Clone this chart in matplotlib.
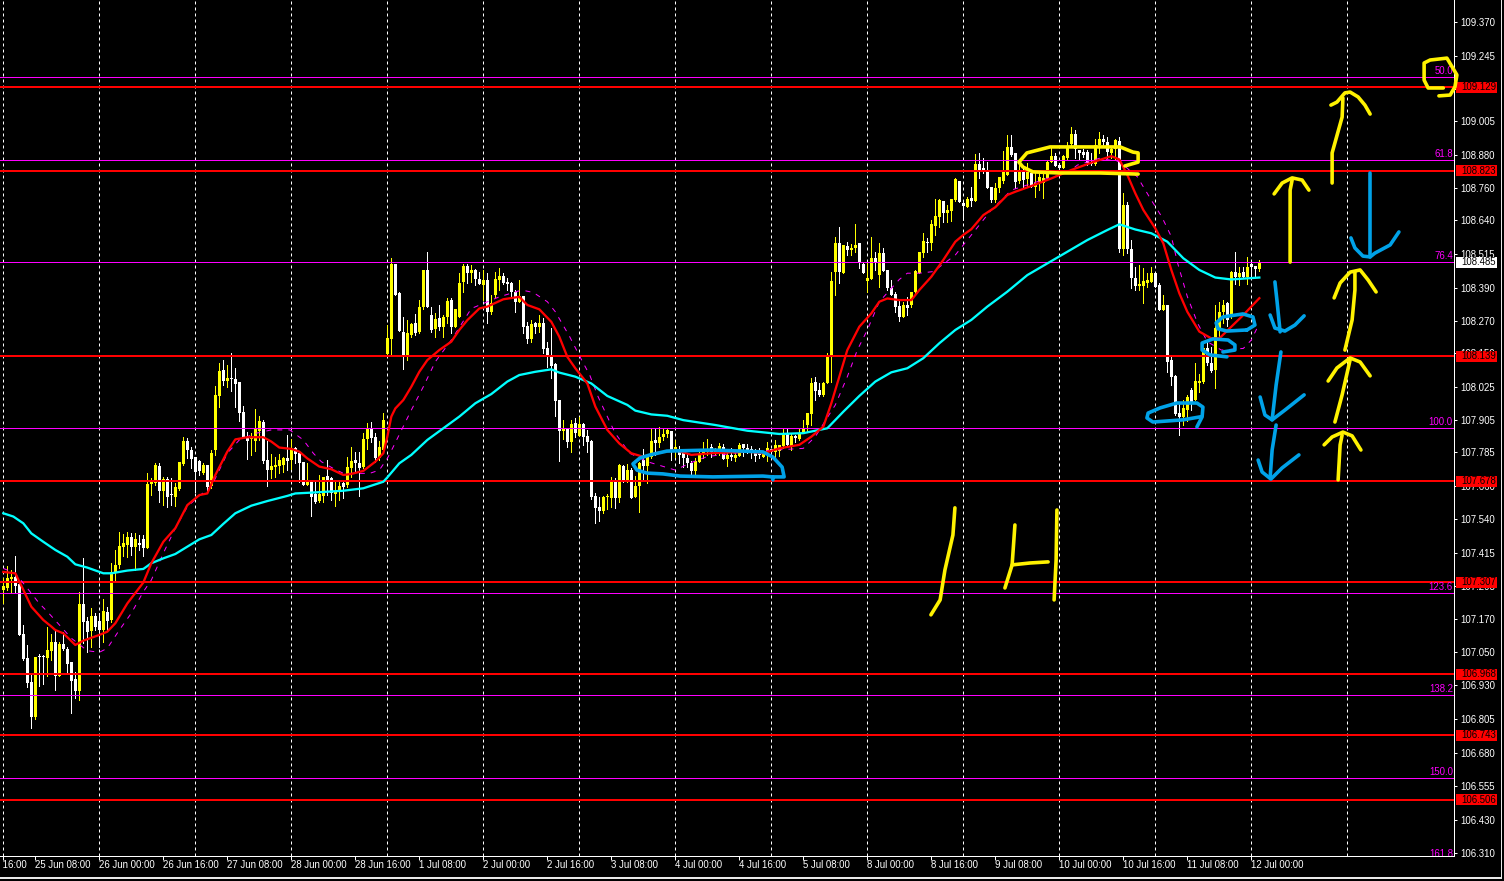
import numpy as np
import matplotlib
matplotlib.use("Agg")
import matplotlib.pyplot as plt
from matplotlib.lines import Line2D
from matplotlib.patches import Rectangle
from matplotlib.transforms import blended_transform_factory

plt.rcParams['font.family'] = ['Liberation Sans', 'DejaVu Sans']

# H1 candles
opens = [
    107.279, 107.285, 107.318, 107.328, 107.301, 107.115, 107.029, 106.940, 106.812, 107.033,
    107.033, 107.029, 107.055, 107.087, 106.963, 107.080, 107.061, 107.015, 106.951, 106.908,
    107.227, 107.166, 107.128, 107.183, 107.166, 107.131, 107.199, 107.168, 107.340, 107.371,
    107.438, 107.444, 107.472, 107.438, 107.450, 107.466, 107.432, 107.669, 107.671, 107.735,
    107.644, 107.687, 107.629, 107.622, 107.649, 107.742, 107.827, 107.794, 107.769, 107.753,
    107.711, 107.739, 107.661, 107.794, 107.993, 108.089, 108.049, 108.058, 108.054, 108.044,
    107.934, 107.842, 107.835, 107.827, 107.864, 107.897, 107.757, 107.720, 107.733, 107.736,
    107.739, 107.763, 107.757, 107.800, 107.784, 107.751, 107.665, 107.680, 107.631, 107.606,
    107.625, 107.698, 107.690, 107.632, 107.641, 107.671, 107.665, 107.726, 107.757, 107.747,
    107.733, 107.834, 107.874, 107.843, 107.763, 107.794, 108.147, 108.203, 108.479, 108.371,
    108.230, 108.138, 108.217, 108.263, 108.230, 108.322, 108.457, 108.291, 108.238, 108.279,
    108.246, 108.282, 108.346, 108.248, 108.285, 108.413, 108.471, 108.447, 108.456, 108.422,
    108.401, 108.420, 108.303, 108.365, 108.420, 108.434, 108.414, 108.410, 108.377, 108.340,
    108.361, 108.250, 108.203, 108.260, 108.246, 108.263, 108.168, 108.138, 108.110, 107.978,
    107.865, 107.874, 107.825, 107.893, 107.846, 107.890, 107.846, 107.828, 107.625, 107.585,
    107.569, 107.622, 107.616, 107.683, 107.616, 107.735, 107.677, 107.720, 107.620, 107.661,
    107.757, 107.735, 107.767, 107.831, 107.818, 107.843, 107.853, 107.865, 107.794, 107.794,
    107.782, 107.764, 107.745, 107.718, 107.748, 107.780, 107.786, 107.804, 107.782, 107.785,
    107.804, 107.760, 107.776, 107.764, 107.772, 107.817, 107.801, 107.797, 107.785, 107.782,
    107.768, 107.785, 107.797, 107.788, 107.792, 107.809, 107.853, 107.809, 107.844, 107.834,
    107.858, 107.886, 107.926, 108.043, 108.015, 107.997, 108.040, 108.138, 108.448, 108.555,
    108.447, 108.545, 108.530, 108.537, 108.557, 108.479, 108.416, 108.422, 108.500, 108.438,
    108.518, 108.457, 108.389, 108.368, 108.324, 108.285, 108.328, 108.328, 108.377, 108.447,
    108.518, 108.561, 108.557, 108.619, 108.653, 108.711, 108.665, 108.675, 108.715, 108.786,
    108.705, 108.690, 108.723, 108.712, 108.847, 108.831, 108.825, 108.764, 108.714, 108.757,
    108.785, 108.807, 108.908, 108.886, 108.785, 108.825, 108.791, 108.813, 108.764, 108.776,
    108.776, 108.794, 108.856, 108.876, 108.843, 108.831, 108.870, 108.921, 108.957, 108.899,
    108.890, 108.892, 108.856, 108.847, 108.917, 108.941, 108.929, 108.889, 108.901, 108.933,
    108.533, 108.696, 108.533, 108.426, 108.398, 108.399, 108.410, 108.414, 108.447, 108.402,
    108.310, 108.328, 108.125, 108.067, 107.932, 107.915, 107.941, 108.015, 107.978, 108.039,
    108.046, 108.168, 108.113, 108.088, 108.242, 108.303, 108.334, 108.291, 108.450, 108.430,
    108.450, 108.432, 108.479, 108.471, 108.459,
]
highs = [
    107.322, 107.367, 107.352, 107.404, 107.309, 107.150, 107.076, 106.972, 107.033, 107.043,
    107.039, 107.141, 107.117, 107.131, 107.088, 107.123, 107.070, 107.015, 106.978, 107.272,
    107.395, 107.180, 107.211, 107.193, 107.193, 107.244, 107.217, 107.377, 107.426, 107.493,
    107.485, 107.493, 107.487, 107.487, 107.481, 107.481, 107.708, 107.690, 107.745, 107.745,
    107.693, 107.693, 107.690, 107.674, 107.751, 107.841, 107.837, 107.806, 107.769, 107.757,
    107.745, 107.739, 107.794, 108.030, 108.116, 108.125, 108.107, 108.150, 108.095, 108.046,
    107.956, 107.862, 107.855, 107.944, 107.919, 107.904, 107.827, 107.778, 107.769, 107.778,
    107.769, 107.849, 107.833, 107.806, 107.788, 107.751, 107.745, 107.684, 107.677, 107.702,
    107.696, 107.757, 107.696, 107.680, 107.680, 107.677, 107.769, 107.804, 107.788, 107.788,
    107.855, 107.892, 107.898, 107.855, 107.828, 107.929, 108.254, 108.500, 108.479, 108.375,
    108.285, 108.272, 108.260, 108.295, 108.346, 108.457, 108.523, 108.322, 108.297, 108.328,
    108.291, 108.352, 108.352, 108.315, 108.444, 108.479, 108.479, 108.475, 108.459, 108.450,
    108.456, 108.444, 108.365, 108.450, 108.463, 108.444, 108.426, 108.414, 108.383, 108.420,
    108.361, 108.266, 108.272, 108.266, 108.291, 108.279, 108.193, 108.242, 108.113, 107.978,
    107.904, 107.874, 107.904, 107.910, 107.917, 107.895, 107.868, 107.831, 107.637, 107.622,
    107.625, 107.632, 107.693, 107.690, 107.742, 107.739, 107.742, 107.726, 107.700, 107.751,
    107.796, 107.769, 107.870, 107.870, 107.880, 107.874, 107.874, 107.865, 107.831, 107.809,
    107.782, 107.782, 107.752, 107.764, 107.795, 107.825, 107.834, 107.817, 107.801, 107.819,
    107.817, 107.782, 107.801, 107.795, 107.819, 107.817, 107.817, 107.807, 107.797, 107.801,
    107.788, 107.822, 107.797, 107.831, 107.813, 107.874, 107.874, 107.856, 107.850, 107.874,
    107.905, 107.929, 108.058, 108.064, 108.040, 108.046, 108.150, 108.451, 108.579, 108.614,
    108.549, 108.561, 108.552, 108.626, 108.557, 108.488, 108.481, 108.577, 108.524, 108.555,
    108.537, 108.457, 108.420, 108.377, 108.346, 108.340, 108.358, 108.377, 108.457, 108.524,
    108.592, 108.573, 108.642, 108.717, 108.717, 108.711, 108.696, 108.717, 108.794, 108.786,
    108.714, 108.727, 108.764, 108.884, 108.886, 108.868, 108.856, 108.764, 108.776, 108.800,
    108.896, 108.954, 108.954, 108.886, 108.843, 108.837, 108.849, 108.825, 108.813, 108.813,
    108.813, 108.862, 108.911, 108.886, 108.849, 108.880, 108.929, 108.982, 108.972, 108.899,
    108.904, 108.899, 108.886, 108.941, 108.966, 108.954, 108.948, 108.905, 108.941, 108.948,
    108.739, 108.708, 108.567, 108.469, 108.475, 108.463, 108.445, 108.469, 108.451, 108.408,
    108.365, 108.328, 108.144, 108.069, 107.966, 107.978, 107.997, 108.021, 108.113, 108.074,
    108.168, 108.193, 108.174, 108.328, 108.340, 108.346, 108.340, 108.454, 108.524, 108.466,
    108.469, 108.503, 108.493, 108.471, 108.493,
]
lows = [
    107.230, 107.279, 107.272, 107.266, 107.113, 107.021, 106.920, 106.769, 106.803, 106.926,
    106.931, 106.960, 107.021, 106.910, 106.963, 107.058, 106.972, 106.825, 106.880, 106.874,
    107.082, 107.049, 107.070, 107.131, 107.070, 107.088, 107.131, 107.162, 107.309, 107.358,
    107.405, 107.401, 107.407, 107.352, 107.426, 107.404, 107.432, 107.628, 107.665, 107.604,
    107.591, 107.585, 107.591, 107.588, 107.647, 107.739, 107.763, 107.726, 107.641, 107.702,
    107.706, 107.634, 107.653, 107.776, 107.954, 108.033, 108.027, 108.012, 107.954, 107.901,
    107.837, 107.761, 107.776, 107.792, 107.831, 107.745, 107.663, 107.690, 107.696, 107.708,
    107.714, 107.720, 107.723, 107.745, 107.677, 107.665, 107.665, 107.552, 107.597, 107.604,
    107.604, 107.628, 107.610, 107.588, 107.610, 107.616, 107.657, 107.696, 107.714, 107.625,
    107.726, 107.798, 107.825, 107.751, 107.757, 107.794, 108.147, 108.147, 108.365, 108.233,
    108.091, 108.125, 108.211, 108.217, 108.226, 108.315, 108.322, 108.230, 108.209, 108.236,
    108.211, 108.260, 108.226, 108.246, 108.285, 108.377, 108.410, 108.414, 108.401, 108.407,
    108.346, 108.263, 108.295, 108.358, 108.383, 108.407, 108.383, 108.352, 108.303, 108.340,
    108.223, 108.187, 108.193, 108.223, 108.230, 108.150, 108.098, 108.058, 107.919, 107.755,
    107.833, 107.804, 107.788, 107.843, 107.846, 107.812, 107.788, 107.612, 107.524, 107.534,
    107.563, 107.576, 107.585, 107.579, 107.604, 107.677, 107.677, 107.616, 107.620, 107.567,
    107.684, 107.671, 107.763, 107.776, 107.806, 107.831, 107.843, 107.757, 107.769, 107.745,
    107.733, 107.733, 107.703, 107.703, 107.748, 107.764, 107.776, 107.770, 107.776, 107.776,
    107.760, 107.736, 107.758, 107.752, 107.772, 107.772, 107.782, 107.764, 107.752, 107.764,
    107.768, 107.752, 107.770, 107.764, 107.772, 107.801, 107.813, 107.795, 107.825, 107.831,
    107.858, 107.862, 107.886, 107.978, 107.991, 107.993, 108.040, 108.046, 108.365, 108.408,
    108.445, 108.512, 108.512, 108.524, 108.463, 108.445, 108.377, 108.422, 108.457, 108.395,
    108.454, 108.383, 108.365, 108.303, 108.270, 108.285, 108.291, 108.322, 108.365, 108.445,
    108.506, 108.524, 108.530, 108.585, 108.614, 108.635, 108.635, 108.638, 108.712, 108.708,
    108.641, 108.688, 108.692, 108.712, 108.794, 108.813, 108.757, 108.708, 108.708, 108.745,
    108.776, 108.807, 108.876, 108.757, 108.776, 108.757, 108.764, 108.764, 108.724, 108.751,
    108.721, 108.794, 108.856, 108.840, 108.800, 108.831, 108.862, 108.917, 108.868, 108.862,
    108.874, 108.843, 108.843, 108.843, 108.886, 108.911, 108.868, 108.868, 108.862, 108.524,
    108.512, 108.518, 108.389, 108.383, 108.383, 108.336, 108.395, 108.414, 108.395, 108.310,
    108.310, 108.083, 108.033, 107.923, 107.850, 107.886, 107.899, 107.941, 107.978, 108.009,
    108.040, 108.107, 108.082, 108.023, 108.199, 108.260, 108.250, 108.279, 108.407, 108.401,
    108.426, 108.407, 108.432, 108.430, 108.454,
]
closes = [
    107.295, 107.324, 107.328, 107.293, 107.113, 107.023, 106.937, 106.812, 107.033, 107.032,
    107.032, 107.058, 107.087, 106.963, 107.080, 107.060, 107.006, 106.945, 106.908, 107.227,
    107.162, 107.125, 107.183, 107.144, 107.131, 107.201, 107.166, 107.344, 107.371, 107.442,
    107.450, 107.472, 107.438, 107.465, 107.444, 107.432, 107.669, 107.680, 107.739, 107.644,
    107.686, 107.620, 107.627, 107.656, 107.749, 107.827, 107.794, 107.760, 107.714, 107.717,
    107.739, 107.659, 107.782, 107.997, 108.085, 108.049, 108.060, 108.056, 108.037, 107.931,
    107.839, 107.827, 107.837, 107.874, 107.901, 107.755, 107.720, 107.735, 107.736, 107.757,
    107.766, 107.753, 107.800, 107.779, 107.745, 107.665, 107.677, 107.622, 107.604, 107.632,
    107.696, 107.683, 107.637, 107.643, 107.661, 107.659, 107.733, 107.753, 107.745, 107.726,
    107.833, 107.876, 107.837, 107.763, 107.804, 107.904, 108.205, 108.479, 108.365, 108.233,
    108.138, 108.224, 108.258, 108.226, 108.322, 108.457, 108.322, 108.236, 108.276, 108.246,
    108.285, 108.342, 108.246, 108.312, 108.410, 108.471, 108.447, 108.456, 108.422, 108.405,
    108.420, 108.303, 108.334, 108.422, 108.436, 108.410, 108.405, 108.377, 108.340, 108.361,
    108.248, 108.203, 108.257, 108.246, 108.260, 108.166, 108.135, 108.103, 107.976, 107.865,
    107.874, 107.825, 107.890, 107.855, 107.890, 107.843, 107.825, 107.620, 107.582, 107.569,
    107.622, 107.623, 107.681, 107.616, 107.739, 107.677, 107.720, 107.616, 107.661, 107.745,
    107.735, 107.767, 107.828, 107.821, 107.843, 107.853, 107.868, 107.794, 107.806, 107.776,
    107.764, 107.745, 107.718, 107.752, 107.780, 107.786, 107.797, 107.788, 107.797, 107.809,
    107.760, 107.776, 107.770, 107.776, 107.813, 107.801, 107.788, 107.785, 107.772, 107.776,
    107.782, 107.801, 107.788, 107.813, 107.813, 107.853, 107.813, 107.844, 107.838, 107.858,
    107.871, 107.929, 108.040, 108.013, 107.997, 108.040, 108.144, 108.416, 108.555, 108.451,
    108.549, 108.530, 108.539, 108.549, 108.481, 108.447, 108.426, 108.500, 108.481, 108.518,
    108.454, 108.389, 108.365, 108.322, 108.283, 108.328, 108.316, 108.377, 108.454, 108.524,
    108.564, 108.555, 108.626, 108.656, 108.714, 108.665, 108.676, 108.717, 108.791, 108.708,
    108.693, 108.717, 108.712, 108.847, 108.822, 108.819, 108.757, 108.714, 108.757, 108.798,
    108.825, 108.908, 108.880, 108.782, 108.825, 108.788, 108.819, 108.764, 108.776, 108.800,
    108.794, 108.856, 108.876, 108.840, 108.831, 108.876, 108.913, 108.957, 108.901, 108.886,
    108.880, 108.849, 108.847, 108.917, 108.941, 108.929, 108.892, 108.901, 108.935, 108.533,
    108.696, 108.533, 108.426, 108.398, 108.407, 108.416, 108.420, 108.445, 108.395, 108.310,
    108.328, 108.119, 108.064, 107.927, 107.915, 107.948, 107.990, 107.966, 108.049, 108.049,
    108.168, 108.113, 108.086, 108.242, 108.303, 108.328, 108.272, 108.450, 108.430, 108.447,
    108.432, 108.466, 108.469, 108.459, 108.485,
]

# moving averages, read every few bars
red_bars = [0, 3, 5, 7, 10, 12, 13, 15, 18, 20, 24, 26, 28, 31, 35, 37, 40, 43, 46, 49, 51, 53,
            56, 58, 61, 65, 67, 69, 72, 74, 76, 79, 82, 85, 87, 90, 93, 95, 96, 97, 98, 100, 102,
            104, 106, 109, 112, 114, 116, 119, 121, 125, 129, 131, 134, 137, 139, 141, 143, 146,
            148, 151, 154, 157, 160, 163, 168, 172, 177, 186, 190, 194, 199, 202, 205, 207, 209,
            211, 214, 217, 219, 221, 224, 227, 229, 232, 235, 238, 240, 242, 245, 248, 251, 253,
            257, 262, 267, 272, 277, 279, 281, 283, 285, 288, 290, 292, 294, 296, 299, 302, 304,
            307, 310, 314]
red_vals = [107.345, 107.340, 107.279, 107.217, 107.168, 107.144, 107.131, 107.119, 107.076,
            107.092, 107.113, 107.125, 107.156, 107.229, 107.306, 107.377, 107.456, 107.506,
            107.591, 107.628, 107.634, 107.702, 107.788, 107.833, 107.841, 107.841, 107.825,
            107.803, 107.798, 107.788, 107.763, 107.733, 107.723, 107.702, 107.706, 107.717,
            107.751, 107.782, 107.843, 107.917, 107.947, 107.978, 108.027, 108.082, 108.125,
            108.162, 108.193, 108.236, 108.272, 108.315, 108.322, 108.349, 108.358, 108.328,
            108.312, 108.266, 108.211, 108.137, 108.095, 108.039, 107.954, 107.868, 107.818,
            107.782, 107.769, 107.782, 107.794, 107.776, 107.782, 107.788, 107.782, 107.800,
            107.813, 107.843, 107.880, 107.966, 108.064, 108.162, 108.248, 108.297, 108.340,
            108.352, 108.346, 108.346, 108.383, 108.432, 108.494, 108.561, 108.586, 108.607,
            108.659, 108.688, 108.733, 108.745, 108.766, 108.794, 108.825, 108.852, 108.876,
            108.864, 108.807, 108.739, 108.678, 108.610, 108.555, 108.457, 108.371, 108.303,
            108.230, 108.205, 108.205, 108.248, 108.291, 108.353]

cyan_bars = [0, 2.5, 5, 7, 10, 13, 16, 18, 21, 25, 27, 31, 35, 37, 40, 43, 46, 49, 52, 55, 58, 62,
             66, 71, 73, 77, 85, 90, 95, 96, 99, 102, 106, 110, 114, 118, 122, 126, 129, 133, 137,
             139, 143, 147, 151, 156, 158, 162, 166, 170, 178, 186, 194, 200, 206, 210, 214, 218,
             222, 226, 230, 234, 238, 242, 246, 251, 256, 261, 266, 271, 276, 279, 283, 287, 291,
             295, 299, 303, 307, 314]
cyan_vals = [107.561, 107.549, 107.524, 107.487, 107.456, 107.426, 107.401, 107.373, 107.361,
             107.340, 107.340, 107.350, 107.356, 107.377, 107.395, 107.411, 107.438, 107.465,
             107.481, 107.522, 107.561, 107.589, 107.606, 107.625, 107.634, 107.637, 107.644,
             107.653, 107.677, 107.693, 107.745, 107.776, 107.831, 107.874, 107.917, 107.966,
             108.000, 108.046, 108.070, 108.082, 108.091, 108.079, 108.064, 108.039, 107.993,
             107.960, 107.939, 107.925, 107.920, 107.904, 107.886, 107.865, 107.853, 107.856,
             107.874, 107.935, 107.993, 108.046, 108.080, 108.095, 108.132, 108.187, 108.236,
             108.273, 108.322, 108.377, 108.438, 108.481, 108.524, 108.567, 108.604, 108.625,
             108.606, 108.592, 108.561, 108.500, 108.457, 108.429, 108.422, 108.429]

dash_bars = [0, 3, 6, 9, 11, 14, 17, 21, 24, 26, 29, 32, 35, 37, 40, 43, 46, 49, 52, 54, 56, 59,
             63, 67, 71.6, 75, 77.5, 79.5, 82.5, 85, 91.6, 94, 96, 97.5, 102, 105, 108, 112, 117,
             124, 129.6, 132.5, 136, 138, 141.6, 144.6, 146.6, 148.7, 151.6, 153, 156.6, 161, 168,
             171.5, 176, 186, 200, 203, 208, 211, 213.5, 216, 219, 224, 226, 229, 232.5, 238, 240,
             243, 247, 252, 256, 261, 266, 268.5, 274, 279, 283.5, 287, 289.6, 292, 293.6, 296,
             298.6, 301, 304.5, 310, 312, 313.6]
dash_vals = [107.358, 107.340, 107.285, 107.229, 107.199, 107.150, 107.101, 107.055, 107.049,
             107.064, 107.131, 107.193, 107.272, 107.315, 107.414, 107.506, 107.585, 107.625,
             107.659, 107.720, 107.782, 107.831, 107.855, 107.868, 107.868, 107.831, 107.782,
             107.751, 107.726, 107.708, 107.708, 107.720, 107.763, 107.806, 107.941, 108.027,
             108.119, 108.199, 108.315, 108.358, 108.383, 108.374, 108.340, 108.303, 108.211,
             108.125, 108.070, 107.990, 107.898, 107.855, 107.782, 107.751, 107.720, 107.745,
             107.770, 107.788, 107.800, 107.843, 107.960, 108.064, 108.162, 108.236, 108.340,
             108.422, 108.445, 108.445, 108.451, 108.512, 108.549, 108.604, 108.678, 108.751,
             108.770, 108.794, 108.813, 108.843, 108.868, 108.856, 108.800, 108.714, 108.653,
             108.580, 108.481, 108.359, 108.260, 108.193, 108.162, 108.168, 108.199, 108.248]

# horizontal levels
support_levels = [109.129, 108.823, 108.139, 107.678, 107.307, 106.968, 106.743, 106.506]
fib_levels = [109.167, 108.862, 108.485, 107.875, 107.268, 106.892, 106.586, 106.285]
fib_names = ['50.0', '61.8', '76.4', '100.0', '123.6', '138.2', '150.0', '161.8']
last_price = 108.485

price_ticks = [109.370, 109.245, 109.125, 109.005, 108.880, 108.760, 108.640, 108.515, 108.390,
               108.270, 108.150, 108.025, 107.905, 107.785, 107.660, 107.540, 107.415, 107.295,
               107.170, 107.050, 106.930, 106.805, 106.680, 106.555, 106.430, 106.310]

time_labels = ['24 Jun 16:00', '25 Jun 08:00', '26 Jun 00:00', '26 Jun 16:00', '27 Jun 08:00',
               '28 Jun 00:00', '28 Jun 16:00', '1 Jul 08:00', '2 Jul 00:00', '2 Jul 16:00',
               '3 Jul 08:00', '4 Jul 00:00', '4 Jul 16:00', '5 Jul 08:00', '8 Jul 00:00',
               '8 Jul 16:00', '9 Jul 08:00', '10 Jul 00:00', '10 Jul 16:00', '11 Jul 08:00',
               '12 Jul 00:00']

# hand drawn marks on the screenshot, (bar, price)
yellow_strokes = [
    [(360, 109.127), (356.2, 109.127), (355.2, 109.156), (355.2, 109.219), (356.7, 109.230),
     (360.9, 109.237), (363.4, 109.175), (362.9, 109.131), (361.7, 109.101), (358.9, 109.098)],
    [(332.2, 108.777), (332.2, 108.888), (334.7, 109.020), (334.9, 109.090)],
    [(331.9, 109.064), (333.4, 109.075), (335.4, 109.109), (336.7, 109.112), (338.7, 109.094),
     (340.4, 109.064), (341.7, 109.031)],
    [(321.7, 108.486), (321.7, 108.751), (322.2, 108.788)],
    [(317.7, 108.737), (319.7, 108.777), (322.2, 108.796), (324.7, 108.788), (326.4, 108.751)],
    [(335.4, 108.162), (337.2, 108.273), (337.9, 108.383), (337.9, 108.449)],
    [(332.7, 108.354), (334.2, 108.409), (336.7, 108.449), (339.2, 108.457), (341.2, 108.420),
     (343.2, 108.376)],
    [(332.9, 107.897), (334.7, 107.997), (336.7, 108.126)],
    [(331.2, 108.048), (333.4, 108.096), (336.7, 108.133), (339.2, 108.118), (341.7, 108.067)],
    [(333.7, 107.684), (334.2, 107.813), (334.7, 107.849)],
    [(330.2, 107.813), (332.2, 107.842), (334.9, 107.860), (337.2, 107.846), (339.4, 107.794)],
    [(231.9, 107.187), (234.2, 107.242), (235.4, 107.352), (237.4, 107.481), (237.9, 107.581)],
    [(250.4, 107.286), (252.2, 107.371), (252.9, 107.518)],
    [(252.2, 107.371), (256.7, 107.378), (261.2, 107.382)],
    [(262.7, 107.242), (263.2, 107.389), (263.4, 107.573)],
    [(283.7, 108.810), (274.2, 108.814), (264.2, 108.814), (257.4, 108.818), (254.9, 108.836),
     (253.9, 108.854), (255.9, 108.888), (261.7, 108.910), (272.4, 108.910), (279.2, 108.910),
     (282.4, 108.891), (283.7, 108.888), (283.7, 108.854), (280.4, 108.840)],
]
blue_strokes = [
    [(192.4, 107.684), (192.2, 107.695), (189.9, 107.698), (177.4, 107.695), (169.2, 107.698),
     (164.9, 107.706), (160.9, 107.709), (158.4, 107.720), (157.4, 107.743), (159.2, 107.765),
     (161.7, 107.776), (165.9, 107.790), (177.4, 107.794), (189.9, 107.787), (192.4, 107.768),
     (194.7, 107.731), (195.2, 107.695), (192.4, 107.695)],
    [(298.4, 107.879), (299.7, 107.916), (299.9, 107.952), (298.4, 107.967), (293.4, 107.967),
     (289.2, 107.949), (286.2, 107.930), (285.9, 107.912), (287.4, 107.897), (294.9, 107.905),
     (299.2, 107.916)],
    [(305.9, 108.137), (301.7, 108.144), (299.7, 108.162), (299.7, 108.188), (302.4, 108.203),
     (306.2, 108.199), (307.9, 108.181), (307.9, 108.162), (304.9, 108.155)],
    [(310.9, 108.236), (305.9, 108.232), (303.7, 108.240), (303.2, 108.262), (304.9, 108.284),
     (309.9, 108.295), (312.4, 108.284), (312.9, 108.254), (310.9, 108.236)],
    [(341.7, 108.814), (341.7, 108.505)],
    [(336.9, 108.575), (337.9, 108.538), (339.9, 108.508), (341.7, 108.505), (342.9, 108.519),
     (346.7, 108.549), (348.9, 108.597)],
    [(317.9, 108.413), (318.4, 108.346), (319.2, 108.229)],
    [(316.7, 108.291), (317.9, 108.243), (320.4, 108.232), (322.9, 108.254), (325.2, 108.288)],
    [(319.4, 108.155), (318.2, 108.033), (317.2, 107.905)],
    [(314.2, 107.989), (315.4, 107.923), (317.2, 107.905), (320.4, 107.941), (325.2, 107.997)],
    [(318.2, 107.886), (317.2, 107.794), (316.7, 107.691)],
    [(313.7, 107.757), (314.7, 107.713), (316.9, 107.687), (319.7, 107.728), (323.9, 107.776)],
]

W, H = 1504, 881
PLOT_W, PLOT_H = 1454, 856
PX = 0.72  # one pixel at dpi 100, in points
TEXT_SIZE = 6.9

fig = plt.figure(figsize=(W / 100, H / 100), dpi=100, facecolor='black')
ax = fig.add_axes([0, (H - PLOT_H) / H, PLOT_W / W, PLOT_H / H], facecolor='black')
ax.set_xlim(-0.83, 362.67)
ax.set_ylim(106.299, 109.451)

bars = np.arange(len(closes))
o, h, l, c = map(np.array, (opens, highs, lows, closes))
cols = ['#FFFF00' if cv >= ov else '#FFFFFF' for ov, cv in zip(o, c)]

for day in range(0, 340, 24):
    ax.axvline(day, color='white', lw=PX, ls=(0, (3, 3)), zorder=1)

ax.vlines(bars, l, h, colors=cols, lw=PX, antialiased=False, zorder=2)
ax.bar(bars, np.maximum(np.abs(c - o), 0.004), bottom=np.minimum(o, c), width=0.75,
       color=cols, lw=0, antialiased=False, zorder=2)

ax.axhline(last_price, color='#808080', lw=PX, zorder=3)
for lev in fib_levels:
    ax.axhline(lev, color='#FF00FF', lw=PX, zorder=3)
for lev in support_levels:
    ax.axhline(lev, color='#FF0000', lw=2 * PX, zorder=3)

ax.plot(dash_bars, dash_vals, color='#FF00FF', lw=PX, ls=(0, (5, 6)), zorder=4)
ax.plot(cyan_bars, cyan_vals, color='#00FFFF', lw=2.3 * PX, zorder=4)
ax.plot(red_bars, red_vals, color='#FF0000', lw=2.3 * PX, zorder=4)

for stroke in yellow_strokes:
    xs, ys = zip(*stroke)
    ax.plot(xs, ys, color='#FFF200', lw=3.6 * PX, solid_capstyle='round', solid_joinstyle='round',
            clip_on=False, zorder=8)
for stroke in blue_strokes:
    xs, ys = zip(*stroke)
    ax.plot(xs, ys, color='#00A2E8', lw=3.6 * PX, solid_capstyle='round', solid_joinstyle='round',
            clip_on=False, zorder=8)

for lev, name in zip(fib_levels, fib_names):
    ax.text(362.4, lev + 0.004, name, color='#FF00FF', fontsize=TEXT_SIZE, ha='right', va='bottom',
            clip_on=True, zorder=5)

# axis frame
for side in ('left', 'top'):
    ax.spines[side].set_visible(False)
for side in ('right', 'bottom'):
    ax.spines[side].set_color('white')
    ax.spines[side].set_linewidth(PX)

ax.yaxis.tick_right()
ax.set_yticks(price_ticks)
ax.set_yticklabels(['%.3f' % p for p in price_ticks])
ax.tick_params(axis='y', colors='white', length=2.2, width=PX, pad=2.5, labelsize=TEXT_SIZE)

label_bars = np.arange(len(time_labels)) * 16 - 8
ax.set_xticks([0] + [b for b in label_bars if b >= 0])
ax.set_xticklabels([])
ax.tick_params(axis='x', colors='white', length=2.8, width=PX)
xt = blended_transform_factory(ax.transData, ax.transAxes)
for b, lab in zip(label_bars, time_labels):
    ax.text(b - 0.2, -9 / PLOT_H, lab, color='white', fontsize=TEXT_SIZE, ha='left', va='center',
            transform=xt, clip_on=False)

# price tags
yt = blended_transform_factory(ax.transAxes, ax.transData)
tag_h = 11 * (109.451 - 106.299) / PLOT_H
for lev, fc in [(v, '#FF0000') for v in support_levels] + [(last_price, '#FFFFFF')]:
    ax.add_patch(Rectangle((1456 / PLOT_W, lev - tag_h / 2), 41 / PLOT_W, tag_h, facecolor=fc,
                           edgecolor='none', transform=yt, clip_on=False, zorder=6))
    ax.text(1461 / PLOT_W, lev, '%.3f' % lev, color='black', fontsize=TEXT_SIZE, ha='left', va='center',
            transform=yt, clip_on=False, zorder=7)

# window edge of the screenshot
fig.add_artist(Line2D([1500.5 / W, 1500.5 / W], [3 / H, 1], color='#E8E8E8', lw=PX))
fig.add_artist(Line2D([0, 1500.5 / W], [3 / H, 3 / H], color='#E8E8E8', lw=2 * PX))

fig.savefig('out.png', dpi=100, facecolor='black')
